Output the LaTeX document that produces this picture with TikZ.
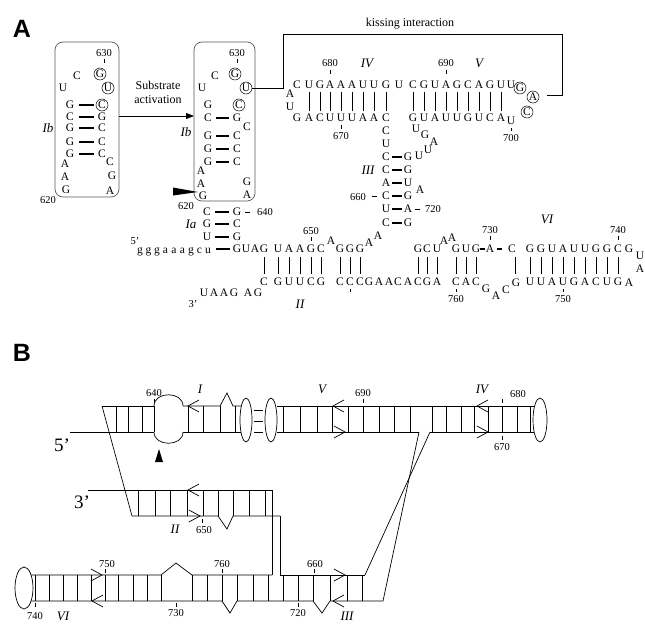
\documentclass[tikz,border=0pt]{standalone}
\usepackage{fontspec}
\setmainfont{Liberation Serif}
\newfontfamily\panelfont{Liberation Sans}
\usetikzlibrary{arrows.meta}
\newcommand{\chevL}[2]{\draw[schem] (#1+11,#2-6) -- (#1,#2) -- (#1+11,#2+6);}
\newcommand{\chevR}[2]{\draw[schem] (#1-11,#2-6) -- (#1,#2) -- (#1-11,#2+6);}
\begin{document}
\begin{tikzpicture}[x=1pt,y=-1pt,
  nt/.style={font=\fontsize{11.5}{11.5}\selectfont,inner sep=0pt},
  num/.style={font=\fontsize{10.5}{10.5}\selectfont,inner sep=0pt},
  hlab/.style={font=\fontsize{13}{13}\selectfont\itshape,inner sep=0pt},
  txt/.style={font=\fontsize{12}{12}\selectfont,inner sep=0pt},
  plab/.style={font=\panelfont\bfseries\fontsize{25}{25}\selectfont,inner sep=0pt},
  endlab/.style={font=\fontsize{19}{19}\selectfont,inner sep=0pt},
  cnt/.style={nt,draw,circle,minimum size=12pt,inner sep=0pt,line width=0.5pt},
  pairbar/.style={line width=1.1pt},
  vbar/.style={line width=1pt},
  tick/.style={line width=0.6pt},
  boxst/.style={draw=black!65,line width=0.7pt,rounded corners=8pt},
  schem/.style={line width=0.7pt}
]
\useasboundingbox (0,0) rectangle (645,624);
\fill[white] (0,0) rectangle (645,624);

% ================= PANEL A =================
\node[plab] (labA) at (22,29) {A};

% ---- box 1 ----
\draw[boxst] (55,42) rectangle (119,197);
\node[num] (b1n630) at (104,53) {630};
\draw[tick] (104,59) -- (104,63);
\node[nt] (b1c1) at (77,76) {C};
\node[cnt] (b1g) at (100,74) {G};
\node[nt] (b1u1) at (63,88) {U};
\node[cnt] (b1u) at (108,88) {U};
\node[cnt] (b1c) at (102,105) {C};
\foreach \y/\l [count=\i] in {105/G,117/C,128/G,142/G,154/G}{
  \node[nt] (b1l\i) at (70,\y) {\l};
  \draw[pairbar] (79,\y) -- (94,\y);
}
\foreach \y/\r [count=\i] in {117/G,128/C,142/C,154/C}
  \node[nt] (b1r\i) at (102,\y) {\r};
\node[nt] (b1a1) at (65,164) {A};
\node[nt] (b1a2) at (65,177) {A};
\node[nt] (b1g2) at (66,190) {G};
\node[nt] (b1c3) at (110,162) {C};
\node[nt] (b1g3) at (112,176) {G};
\node[nt] (b1a3) at (110,191) {A};
\node[num] (b1n620) at (48,200) {620};
\node[hlab] (b1lab) at (48,128) {Ib};

% ---- activation arrow ----
\node[txt] (sub1) at (158,85) {Substrate};
\node[txt] (sub2) at (158,100) {activation};
\draw[line width=0.8pt,-{Triangle[length=8pt,width=6pt]}] (119,116) -- (194,116);

% ---- box 2 ----
\draw[boxst] (194,42) rectangle (255,201);
\node[num] (b2n630) at (237,53) {630};
\draw[tick] (237,59) -- (237,63);
\node[nt] (b2c1) at (215,76) {C};
\node[cnt] (b2g) at (235,74) {G};
\node[nt] (b2u1) at (202,88) {U};
\node[cnt] (b2u) at (246,88) {U};
\node[nt] (b2g1) at (208,105) {G};
\node[cnt] (b2c) at (239,105) {C};
\foreach \y/\l/\r [count=\i] in {118/C/G,136/G/C,149/G/C,162/G/C}{
  \node[nt] (b2l\i) at (208,\y) {\l};
  \node[nt] (b2r\i) at (237,\y) {\r};
  \draw[pairbar] (216,\y) -- (229,\y);
}
\node[nt] (b2c5) at (247,127) {C};
\node[nt] (b2a1) at (201,171) {A};
\node[nt] (b2a2) at (201,184) {A};
\node[nt] (b2g5) at (203,196) {G};
\node[nt] (b2g6) at (247,182) {G};
\node[nt] (b2a3) at (247,195) {A};
\node[hlab] (b2lab) at (186,132) {Ib};
\fill (173,187.5) -- (198,192) -- (173,195.5) -- cycle;
\node[num] (b2n620) at (186,206) {620};

% ---- kissing bracket ----
\draw[line width=1pt] (b2u.east) -- (283,88) -- (283,34) -- (562,34) -- (562,95) -- (547,95);
\node[txt] (kiss) at (410,24) {kissing interaction};

% ---- helix Ia ----
\foreach \y/\l/\r [count=\i] in {212/C/G,224/G/C,237/U/G}{
  \node[nt] (ial\i) at (207,\y) {\l};
  \node[nt] (iar\i) at (237,\y) {\r};
  \draw[pairbar] (215,\y) -- (229,\y);
}
\draw[tick] (245,212) -- (250,212);
\node[num] (n640) at (265,212) {640};
\node[hlab] (ialab) at (191,224) {Ia};
\node[num] (p5) at (135,241) {5'};
\foreach \x/\c [count=\i] in {140/g,148.5/g,157/g,165.5/a,174/a,182.5/a,191/g,199.5/c,208/u}
  \node[nt,anchor=base] (lc\i) at (\x,253) {\c};
\draw[pairbar] (216,249) -- (230,249);

% ---- helices IV / V ----
\foreach \x/\c [count=\i] in {297/C,309/U,320/G,330/A,341/A,352/A,363/U,374/U,386/G,399/U,413/C,424/G,435/U,446/A,457/G,468/C,479/A,490/G,501/U,511/U}
  \node[nt] (tv\i) at (\x,85) {\c};
\foreach \x/\c [count=\i] in {297/G,309/A,320/C,330/U,341/U,352/U,363/A,374/A,386/C,413/G,424/U,435/A,446/U,457/U,468/G,479/U,490/C,501/A}
  \node[nt] (bv\i) at (\x,118) {\c};
\node[nt] (bv700) at (511,121) {U};
\foreach \x in {309,320,330,341,352,363,374,386,413,424,435,446,457,468,479,490,501}
  \draw[vbar] (\x,92) -- (\x,111);
\node[nt] (ivl1) at (290,94) {A};
\node[nt] (ivl2) at (290,107) {U};
\node[cnt] (kg) at (520,88) {G};
\node[cnt] (ka) at (533,97) {A};
\node[cnt] (kc) at (527,112) {C};
\node[num] (n680) at (330,63) {680};
\draw[tick] (330,70) -- (330,74);
\node[hlab] (labIV) at (367,63) {IV};
\node[num] (n690) at (446,63) {690};
\draw[tick] (446,70) -- (446,74);
\node[hlab] (labV) at (479,63) {V};
\draw[tick] (341,125) -- (341,129);
\node[num] (n670) at (341,136) {670};
\draw[tick] (511,128) -- (511,131);
\node[num] (n700) at (511,138) {700};

% ---- internal loop V/III ----
\node[nt] (vl1) at (416,129) {U};
\node[nt] (vl2) at (425,135) {G};
\node[nt] (vl3) at (434,142) {A};
\node[nt] (vl4) at (428,150) {U};
\node[nt] (vl5) at (419,156) {U};

% ---- helix III ----
\foreach \y/\c [count=\i] in {131/C,144/U,157/C,170/C,183/A,196/C,209/U,223/C}
  \node[nt] (iiil\i) at (386,\y) {\c};
\foreach \y/\c [count=\i] in {157/G,170/G,183/U,196/G,209/A,223/G}{
  \node[nt] (iiir\i) at (408,\y) {\c};
  \draw[pairbar] (392,\y) -- (402,\y);
}
\node[nt] (iiia) at (420,190) {A};
\node[hlab] (labIII) at (368,170) {III};
\node[num] (n660) at (358,197) {660};
\draw[tick] (372,196) -- (377,196);
\draw[tick] (415,209) -- (420,209);
\node[num] (n720) at (433,209) {720};

% ---- long rows ----
\foreach \x/\c [count=\i] in {237/G,246/U,255/A,264/G,278/U,289/A,300/A,311/G,321/C,340/G,350/G,360/G,418/G,427/C,437/U,456/G,466/U,476/G,490/A,512/C,530/G,541/G,552/U,563/A,574/U,585/U,596/G,607/G,618/C,629/G}
  \node[nt] (tr\i) at (\x,249) {\c};
\node[nt] (tra1) at (331,241) {A};
\node[nt] (tra2) at (369,243) {A};
\node[nt] (tra3) at (378,236) {A};
\node[nt] (tra4) at (444,241) {A};
\node[nt] (tra5) at (452,238) {A};
\draw[pairbar] (480,249) -- (485,249);
\draw[pairbar] (497,249) -- (502,249);
\node[nt] (lpU) at (640,256) {U};
\node[nt] (lpA) at (640,269) {A};
\foreach \x/\c [count=\i] in {264/C,278/G,289/U,300/U,311/C,321/G,340/C,350/C,360/C,369/G,379/A,389/A,398/C,408/A,418/C,427/G,437/A,456/C,466/A,476/C,530/U,541/U,552/A,563/U,574/G,585/A,596/C,607/U,618/G}
  \node[nt] (br\i) at (\x,282) {\c};
\node[nt] (bra1) at (486,289) {G};
\node[nt] (bra2) at (496,296) {A};
\node[nt] (bra3) at (506,290) {C};
\node[nt] (bra4) at (516,283) {G};
\node[nt] (bra5) at (629,283) {A};
\foreach \x in {264,278,289,300,311,321,340,350,360,418,427,437,456,466,476,515,530,541,552,563,574,585,596,607,618}
  \draw[vbar] (\x,257) -- (\x,274);
\node[num] (n650) at (311,231) {650};
\draw[tick] (311,237) -- (311,241);
\node[num] (n730) at (490,230) {730};
\draw[tick] (490,236) -- (490,240);
\node[hlab] (labVI) at (547,219) {VI};
\node[num] (n740) at (618,230) {740};
\draw[tick] (618,236) -- (618,240);
\draw[tick] (350,289) -- (350,292);
\draw[tick] (456,289) -- (456,292);
\node[num] (n760) at (456,299) {760};
\draw[tick] (563,289) -- (563,292);
\node[num] (n750) at (563,299) {750};
\node[hlab] (labII) at (300,304) {II};
\node[num] (p3) at (193,304) {3'};
\foreach \x/\c [count=\i] in {204/U,214/A,224/A,234/G,248/A,258/G}
  \node[nt] (tail\i) at (\x,293) {\c};

% ================= PANEL B =================
\node[plab] (labB) at (22,353) {B};

% helix I (left part)
\draw[schem] (70,432) -- (154,432);
\draw[schem] (102,406) -- (154,406);
\foreach \x in {116,128,142,154} \draw[schem] (\x,406) -- (\x,432);
\draw[schem] (154,406) .. controls (154,391) and (183,391) .. (183,406);
\draw[schem] (154,432) .. controls (154,447) and (183,447) .. (183,432);
\fill (159,449) -- (155,462) -- (163,462) -- cycle;
\node[num] (bn640) at (154,393) {640};
\draw[tick] (154,399) -- (154,403);
\node[endlab] (b5) at (62,445) {5’};
% helix I (right part)
\draw[schem] (183,406) -- (220,406) -- (227,393) -- (233,406) -- (241,406);
\draw[schem] (183,432) -- (241,432);
\foreach \x in {188,203,220,235} \draw[schem] (\x,406) -- (\x,432);
\chevL{188}{406}
\node[hlab] (bI) at (200,389) {I};
% kissing loops
\draw[schem] (246,420) ellipse[x radius=6,y radius=22];
\foreach \y in {410,421,432} \draw[line width=1pt] (254,\y) -- (263,\y);
\draw[schem] (271,420) ellipse[x radius=6,y radius=22];
% helix V and IV
\draw[schem] (277,406) -- (534,406);
\draw[schem] (277,432) -- (419,432);
\draw[schem] (430,432) -- (534,432);
\foreach \x in {283,300,317,332,348,363,379,394,410} \draw[schem] (\x,406) -- (\x,432);
\chevL{333}{406}
\chevR{345}{432}
\node[hlab] (bV) at (322,389) {V};
\node[num] (bn690) at (363,393) {690};
\draw[tick] (363,399) -- (363,403);
\foreach \x in {432,446,461,474,488,502,517,530} \draw[schem] (\x,406) -- (\x,432);
\chevL{477}{406}
\chevR{488}{432}
\node[hlab] (bIV) at (482,389) {IV};
\node[num] (bn680) at (518,394) {680};
\draw[tick] (502,399) -- (502,403);
\draw[tick] (502,436) -- (502,440);
\node[num] (bn670) at (502,447) {670};
\draw[schem] (540,420) ellipse[x radius=7,y radius=22];
% crossing strands
\draw[schem] (419,432) -- (383,601);
\draw[schem] (430,432) -- (365,575);
\draw[schem] (102,406) -- (132,516);

% helix II
\draw[schem] (88,490) -- (272,490);
\draw[schem] (132,516) -- (218,516) -- (227,529) -- (233,516) -- (280,516);
\foreach \x in {138,155,170,187,203,218,233,249,265} \draw[schem] (\x,490) -- (\x,516);
\chevL{188}{490}
\chevR{200}{516}
\node[endlab] (b3) at (82,502) {3’};
\node[hlab] (bII) at (175,529) {II};
\draw[tick] (202,519) -- (202,523);
\node[num] (bn650) at (204,530) {650};
\draw[schem] (272,490) -- (272,575);
\draw[schem] (280,516) -- (280,575);

% helix VI and III
\draw[schem] (24,588) ellipse[x radius=9,y radius=21];
\draw[schem] (31,575) -- (161,575) -- (176,563) -- (192,575) -- (272,575);
\draw[schem] (280,575) -- (365,575);
\draw[schem] (31,601) -- (222,601) -- (230,613) -- (237,601) -- (313,601) -- (322,613) -- (330,601) -- (383,601);
\foreach \x in {35,49,63,77,91,105,118,133,147,161,192,207,222,237,253,268} \draw[schem] (\x,575) -- (\x,601);
\foreach \x in {283,298,313,330,347,362} \draw[schem] (\x,575) -- (\x,601);
\chevR{102}{575}
\chevL{92}{601}
\chevR{345}{575}
\chevL{333}{601}
\node[num] (bn750) at (107,564) {750};
\draw[tick] (105,569) -- (105,573);
\node[num] (bn740) at (35,616) {740};
\draw[tick] (35,603) -- (35,607);
\node[hlab] (bVI) at (63,616) {VI};
\node[num] (bn730) at (176,613) {730};
\draw[tick] (176,603) -- (176,607);
\node[num] (bn760) at (222,564) {760};
\draw[tick] (222,569) -- (222,573);
\node[num] (bn720) at (298,613) {720};
\draw[tick] (298,603) -- (298,607);
\node[num] (bn660) at (315,564) {660};
\draw[tick] (314,569) -- (314,573);
\node[hlab] (bIII) at (347,616) {III};
\end{tikzpicture}
\end{document}
